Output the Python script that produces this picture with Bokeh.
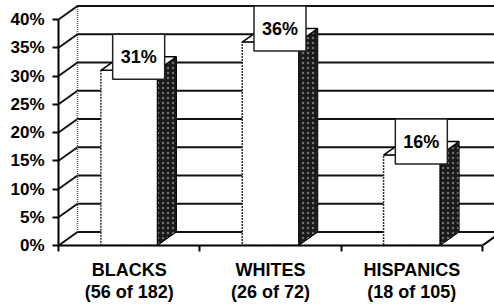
from bokeh.plotting import figure
from bokeh.models import Range1d, FixedTicker
from bokeh.embed import file_html
from bokeh.resources import INLINE
from bokeh.core.properties import value

# ---- data ----
categories = ["BLACKS", "WHITES", "HISPANICS"]
counts = ["(56 of 182)", "(26 of 72)", "(18 of 105)"]
percents = [31, 36, 16]
bar_labels = ["31%", "36%", "16%"]
y_ticks = [0, 5, 10, 15, 20, 25, 30, 35, 40]
y_tick_labels = ["0%", "5%", "10%", "15%", "20%", "25%", "30%", "35%", "40%"]

# ---- layout / style constants ----
W, H = 494, 305
LEFT, BOTTOM = 58, 60
PX_PER_CAT = 141.33
PX_PER_PCT = 5.65
X_END = (W - LEFT) / PX_PER_CAT
Y_END = (H - BOTTOM) / PX_PER_PCT
DX = 19 / PX_PER_CAT          # depth offset (x, category units)
DY = 13.5 / PX_PER_PCT        # depth offset (y, percent units)
HALF = 0.2                    # half bar width (category units)
Y_MAX = y_ticks[-1]
N = len(categories)
FONT = "Liberation Sans"

p = figure(width=W, height=H, output_backend="svg", toolbar_location=None,
           x_range=Range1d(0, X_END), y_range=Range1d(0, Y_END),
           min_border_left=LEFT, min_border_right=0, min_border_top=0,
           min_border_bottom=BOTTOM)
p.outline_line_color = None
p.grid.visible = False
p.background_fill_color = "white"

# y axis
ya = p.yaxis[0]
ya.ticker = FixedTicker(ticks=y_ticks, minor_ticks=[])
ya.major_label_overrides = {t: l for t, l in zip(y_ticks, y_tick_labels)}
ya.bounds = (0, Y_MAX)
ya.axis_line_width = 2
ya.major_tick_line_width = 2
ya.major_tick_out = 6
ya.major_tick_in = 0
ya.major_label_standoff = 8
ya.major_label_text_font = FONT
ya.major_label_text_font_style = "bold"
ya.major_label_text_font_size = "17px"
ya.major_label_text_color = "black"

# x axis
xa = p.xaxis[0]
centers = [i + 0.5 for i in range(N)]
xa.ticker = FixedTicker(ticks=centers, minor_ticks=list(range(N + 1)))
xa.major_label_overrides = {c: f"{a}\n{b}" for c, a, b in zip(centers, categories, counts)}
xa.bounds = (0, N)
xa.axis_line_width = 2
xa.major_tick_line_color = None
xa.major_tick_out = 0
xa.major_tick_in = 0
xa.minor_tick_out = 6
xa.minor_tick_in = 0
xa.minor_tick_line_width = 2
xa.minor_tick_line_color = "black"
xa.major_label_standoff = 8
xa.major_label_text_font = FONT
xa.major_label_text_font_style = "bold"
xa.major_label_text_font_size = "18px"
xa.major_label_text_line_height = 1.1
xa.major_label_text_color = "black"

# ---- walls: gridlines on left wall + back wall ----
gx = [[0, DX, N + DX] for t in y_ticks]
gy = [[t, t + DY, t + DY] for t in y_ticks]
p.multi_line(gx, gy, line_color="#111111", line_width=2)
# back edge of left wall
p.line([DX, DX], [DY, Y_MAX + DY], line_color="#555555", line_width=1.5, line_dash="1 1")
# floor right edge
p.line([N, N + DX], [0, DY], line_color="black", line_width=2)

# ---- bars ----
lefts = [c - HALF for c in centers]
rights = [c + HALF for c in centers]
p.quad(left=lefts, right=rights, bottom=[0] * N, top=percents,
       fill_color="white", line_color="#333333", line_width=1.5, line_dash="2 1")
side_xs = [[r, r + DX, r + DX, r] for r in rights]
side_ys = [[0, DY, v + DY, v] for v in percents]
p.patches(side_xs, side_ys, fill_color="#1a1a1a", line_color="black", line_width=1,
          hatch_pattern="dot", hatch_color="#707070", hatch_scale=5, hatch_weight=1)
top_xs = [[l, l + DX, r + DX, r] for l, r in zip(lefts, rights)]
top_ys = [[v, v + DY, v + DY, v] for v in percents]
p.patches(top_xs, top_ys, fill_color="white", line_color="black", line_width=1.5)

# ---- value boxes ----
bx = [c + DX / 2 for c in centers]
by = [v + DY for v in percents]
p.rect(x=bx, y=by, width=52, height=45, width_units="screen", height_units="screen",
       fill_color="white", line_color="#222222", line_width=1.5)
p.text(x=bx, y=by, text=bar_labels, text_align="center", text_baseline="middle",
       text_font=value(FONT), text_font_style="bold", text_font_size="18px",
       text_color="black")

open("out.html", "w").write(file_html(p, INLINE))
